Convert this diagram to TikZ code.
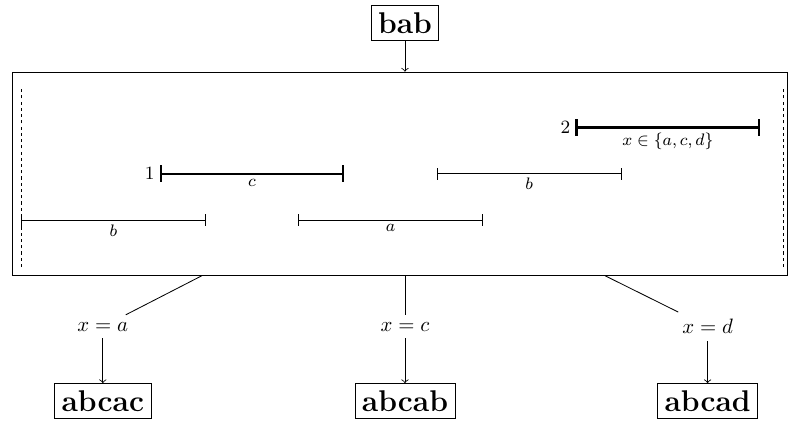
\documentclass[tikz,border=0pt]{standalone}
\usepackage{amsmath}
\usepackage{amssymb}
\usetikzlibrary{calc,positioning}

\begin{document}
\begin{tikzpicture}[x=0.78cm,y=0.78cm,>=to,
  word/.style={draw,font=\Large\bfseries},
  seg/.style={|-|},
  heavy/.style={|-|,line width=1pt},
  lab/.style={below,font=\footnotesize,inner sep=2pt},
  idx/.style={left,font=\small,inner sep=2pt},
  guard/.style={dashed,dash pattern=on 1.5pt off 1.5pt}]

  \useasboundingbox (-0.455,-4.35) rectangle (16.60,4.76);

  \node[word] (root) at (8.31,4.26) {bab};
  \node[draw,inner sep=0pt,minimum width=13.08cm,minimum height=3.43cm] (win) at (8.195,1) {};

  % window borders
  \draw[guard] (0,-1.02) -- (0,2.88);
  \draw[guard] (16.49,-1.02) -- (16.49,2.88);

  % occurrences
  \draw[seg] (0,0) -- node[lab] (lb1) {$b$} (4,0);
  \draw[seg] (6,0) -- node[lab] (la) {$a$} (10,0);
  \draw[seg] (9,1) -- node[lab] (lb2) {$b$} (13,1);
  \draw[heavy] (3,1) node[idx] (one) {1} -- node[lab] (lc) {$c$} (7,1);
  \draw[heavy] (12,2) node[idx] (two) {2} -- node[lab] (lx) {$x\in\{a,c,d\}$} (16,2);

  \node (xa) at (1.77,-2.31) {$x=a$};
  \node (xc) at (8.31,-2.31) {$x=c$};
  \node (xd) at (14.86,-2.31) {$x=d$};

  \node[word] (w1) at (1.77,-3.92) {abcac};
  \node[word] (w2) at (8.31,-3.92) {abcab};
  \node[word] (w3) at (14.86,-3.92) {abcad};

  \draw[->] (root.south) -- (root.south |- win.north);
  \draw (win) -- (xa);
  \draw (win.south -| xc) -- (xc);
  \draw (win) -- (xd);
  \draw[->] (xa) -- (w1);
  \draw[->] (xc) -- (w2);
  \draw[->] (xd) -- (w3);

\end{tikzpicture}
\end{document}
